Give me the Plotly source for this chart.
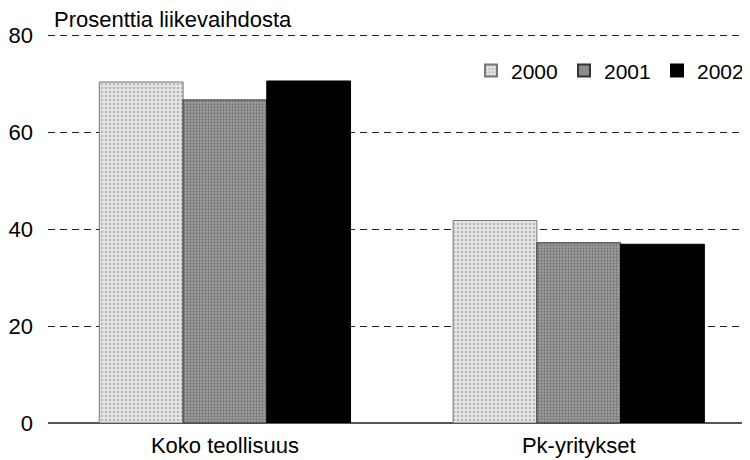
import plotly.graph_objects as go

categories = ["Koko teollisuus", "Pk-yritykset"]
years = ["2000", "2001", "2002"]
values_2000 = [70.4, 41.8]
values_2001 = [66.7, 37.2]
values_2002 = [70.6, 36.9]
y_ticks = [0, 20, 40, 60, 80]

series = [values_2000, values_2001, values_2002]
styles = [
    dict(color="#dcdcdc", pattern=dict(shape=".", fgcolor="#8a8a8a", bgcolor="#e6e6e6", size=4, solidity=0.35),
         line=dict(color="#777777", width=1)),
    dict(color="#8c8c8c", pattern=dict(shape=".", fgcolor="#4a4a4a", bgcolor="#a0a0a0", size=3, solidity=0.45),
         line=dict(color="#333333", width=1)),
    dict(color="#000000", line=dict(color="#000000", width=1)),
]

fig = go.Figure()
for name, vals, st in zip(years, series, styles):
    fig.add_trace(go.Bar(x=categories, y=vals, name=name, marker=st))

font = "Liberation Sans, Arial, sans-serif"
fig.update_layout(
    width=750, height=460,
    margin=dict(l=40, r=8, t=26, b=45, autoexpand=False),
    paper_bgcolor="white", plot_bgcolor="white",
    barmode="group", bargap=0.29, bargroupgap=0,
    font=dict(family=font, size=22, color="#000"),
    showlegend=True,
    legend=dict(orientation="h", x=1.0, xanchor="right", y=0.905, yanchor="middle",
                font=dict(size=21), itemwidth=30, itemsizing="constant",
                entrywidth=48, entrywidthmode="pixels",
                bgcolor="rgba(0,0,0,0)", traceorder="normal"),
    annotations=[dict(text="Prosenttia liikevaihdosta", xref="paper", yref="paper",
                      x=0.006, y=1.0, xanchor="left", yanchor="bottom",
                      showarrow=False, font=dict(size=22))],
)
fig.update_xaxes(range=[-0.5, 1.484], showgrid=False, showline=False, ticks="",
                 tickfont=dict(size=22), ticklabelstandoff=7, automargin=False, fixedrange=True)
fig.update_yaxes(range=[0, 80.3], tickvals=y_ticks, showgrid=True, gridcolor="#222222",
                 griddash="7px,5px", gridwidth=1, zeroline=True, zerolinecolor="#555555",
                 zerolinewidth=1.5, tickfont=dict(size=22), ticklabelstandoff=14,
                 automargin=False, showline=False, fixedrange=True)

fig.write_html("out.html")
